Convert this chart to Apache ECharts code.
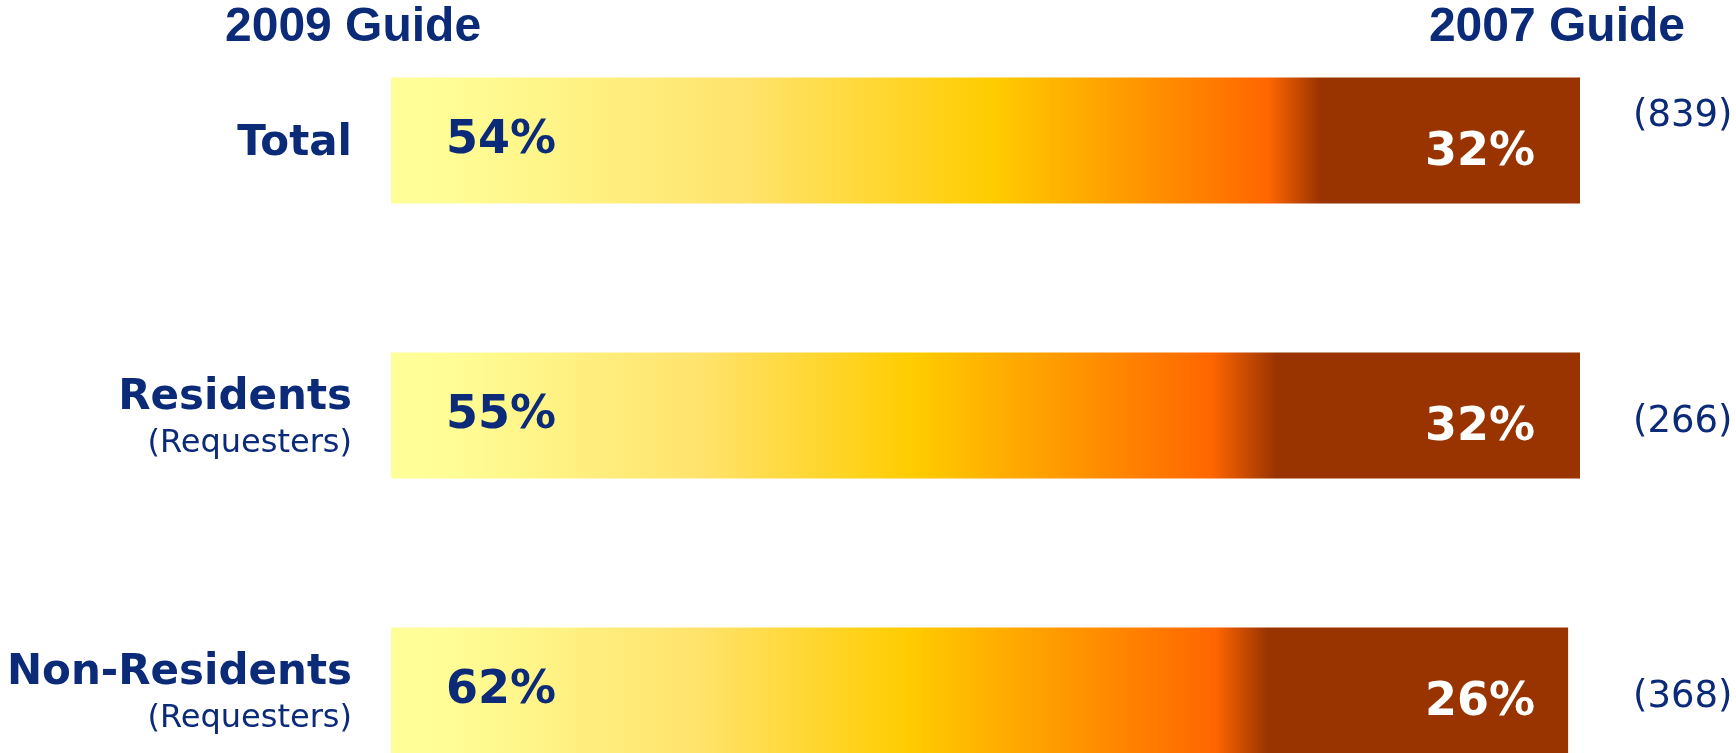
<!DOCTYPE html>
<html>
<head>
<meta charset="utf-8">
<title>Guide preference</title>
<script src="https://cdn.jsdelivr.net/npm/echarts@6/dist/echarts.min.js"></script>
<style>
  html, body { margin: 0; padding: 0; background: #fff; }
  #chart { width: 1736px; height: 753px; }
</style>
</head>
<body>
<div id="chart"></div>
<script>
// data
var groups = ['Total', 'Residents', 'Non-Residents'];
var subLabels = ['', '(Requesters)', '(Requesters)'];
var guide2009 = [54, 55, 62];
var neither = [14, 13, 11];   // rest of each bar (bars sum to 100 / 100 / 99)
var guide2007 = [32, 32, 26];
var bases = [839, 266, 368];
var headers = ['2009 Guide', '2007 Guide'];
var scaleMax = 100;

// gradient stops of each bar (fraction of the bar, colour)
var fills = [
  [[0, '#FFFF99'], [0.06, '#FFFC94'], [0.3, '#FFE36C'], [0.507, '#FFCC00'], [0.738, '#FF6600'], [0.782, '#993300'], [1, '#993300']],
  [[0, '#FFFF99'], [0.06, '#FFFC94'], [0.26, '#FFE36C'], [0.44, '#FFCC00'], [0.69, '#FF6600'], [0.745, '#993300'], [1, '#993300']],
  [[0, '#FFFF99'], [0.06, '#FFFC94'], [0.26, '#FFE36C'], [0.44, '#FFCC00'], [0.70, '#FF6600'], [0.745, '#993300'], [1, '#993300']]
];

var navy = '#0B2A78';
var chart = echarts.init(document.getElementById('chart'));

var totals = groups.map(function(g, i) {
  return guide2009[i] + neither[i] + guide2007[i];
});

var option = {
  animation: false,
  backgroundColor: '#fff',
  title: [{
    text: headers[0],
    left: 225,
    top: 3,
    padding: 0,
    textStyle: { fontFamily: 'Liberation Sans', fontWeight: 'bold', fontSize: 48, lineHeight: 50, color: navy }
  }, {
    text: headers[1],
    right: 51,
    top: 3,
    padding: 0,
    textStyle: { fontFamily: 'Liberation Sans', fontWeight: 'bold', fontSize: 48, lineHeight: 50, color: navy }
  }],
  // last row runs off the bottom of the picture, so the grid does too
  grid: { left: 391, top: 3, width: 1189, height: 825, outerBoundsMode: 'none', containLabel: false },
  xAxis: { type: 'value', min: 0, max: scaleMax, show: false },
  yAxis: [{
    type: 'category',
    inverse: true,
    data: groups,
    axisLine: { show: false },
    axisTick: { show: false },
    axisLabel: {
      interval: 0,
      margin: 39,
      padding: [7, 0, 0, 0],
      formatter: function(v, i) {
        return subLabels[i] ? '{b|' + v + '}\n{n|' + subLabels[i] + '}' : '{b|' + v + '}';
      },
      rich: {
        b: { fontFamily: 'DejaVu Sans', fontWeight: 'bold', fontSize: 42, lineHeight: 50, color: navy, align: 'right' },
        n: { fontFamily: 'DejaVu Sans', fontSize: 32, lineHeight: 42, color: navy, align: 'right' }
      }
    }
  }, {
    type: 'category',
    inverse: true,
    position: 'right',
    data: bases.map(function(n) { return '(' + n + ')'; }),
    axisLine: { show: false },
    axisTick: { show: false },
    axisLabel: {
      interval: 0,
      margin: 53,
      formatter: function(v, i) {
        return i === 0 ? '{up|' + v + '}' : '{d|' + v + '}';
      },
      rich: {
        d: { fontFamily: 'DejaVu Sans', fontSize: 37, color: navy, padding: [13, 0, 0, 0] },
        up: { fontFamily: 'DejaVu Sans', fontSize: 37, color: navy, padding: [0, 0, 48, 0] }
      }
    }
  }],
  series: [{
    name: 'fill',
    type: 'bar',
    silent: true,
    barWidth: 126,
    barGap: '-100%',
    z: 1,
    data: totals.map(function(t, i) {
      return {
        value: t,
        itemStyle: {
          color: {
            type: 'linear', x: 0, y: 0, x2: 1, y2: 0,
            colorStops: fills[i].map(function(s) { return { offset: s[0], color: s[1] }; })
          }
        }
      };
    })
  }, {
    name: headers[0],
    type: 'bar',
    silent: true,
    barWidth: 126,
    barGap: '-100%',
    z: 2,
    itemStyle: { color: 'transparent' },
    label: {
      show: true,
      position: 'insideLeft',
      distance: 55,
      offset: [0, 1],
      formatter: '{c}%',
      fontFamily: 'DejaVu Sans',
      fontWeight: 'bold',
      fontSize: 46,
      color: navy
    },
    data: guide2009
  }, {
    // 2007 shares are set in one column near the 100% end
    name: headers[1],
    type: 'bar',
    silent: true,
    barWidth: 126,
    barGap: '-100%',
    z: 3,
    itemStyle: { color: 'transparent' },
    label: {
      show: true,
      position: 'insideRight',
      distance: 45,
      offset: [0, 13],
      formatter: function(p) { return guide2007[p.dataIndex] + '%'; },
      fontFamily: 'DejaVu Sans',
      fontWeight: 'bold',
      fontSize: 46,
      color: '#fff'
    },
    data: groups.map(function() { return scaleMax; })
  }]
};

chart.setOption(option);
</script>
</body>
</html>
